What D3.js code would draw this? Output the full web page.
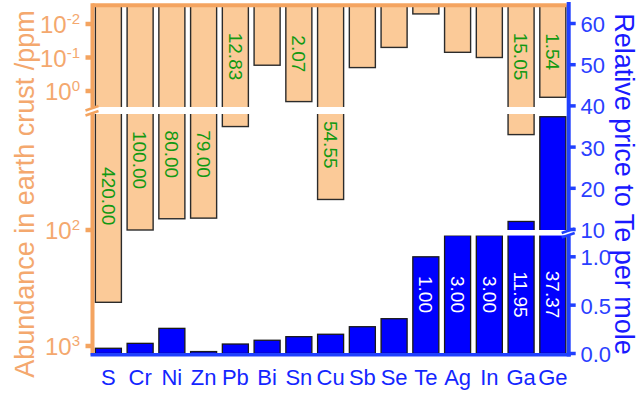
<!DOCTYPE html>
<html>
<head>
<meta charset="utf-8">
<script src="https://cdn.jsdelivr.net/npm/d3@7"></script>
<style>
body { margin: 0; background: #fff; }
svg { display: block; font-family: "Liberation Sans", Arial, sans-serif; }
</style>
</head>
<body>
<svg id="chart" width="640" height="396"></svg>
<script>
// Data
const elements = ["S", "Cr", "Ni", "Zn", "Pb", "Bi", "Sn", "Cu", "Sb", "Se", "Te", "Ag", "In", "Ga", "Ge"];
const abundance = [420, 100, 80, 79, 12.83, 0.17, 2.07, 54.55, 0.2, 0.05, 0.005, 0.07, 0.1, 15.05, 1.54];
const abundanceLabels = ["420.00", "100.00", "80.00", "79.00", "12.83", null, "2.07", "54.55", null, null, null, null, null, "15.05", "1.54"];
const price = [0.054, 0.105, 0.26, 0.02, 0.098, 0.137, 0.174, 0.199, 0.277, 0.36, 1.00, 3.00, 3.00, 11.95, 37.37];
const priceLabels = [null, null, null, null, null, null, null, null, null, null, "1.00", "3.00", "3.00", "11.95", "37.37"];

const leftExpTop = [-2, -1, 0];
const leftExpBottom = [2, 3];
const rightTicksTop = [10, 20, 30, 40, 50, 60];
const rightTicksBottom = [0, 0.5, 1.0];

// Layout
const orange = "#f4a460", orangeText = "#f4a86e", peach = "#fbca98";
const blueAxis = "#2040ff", blueText = "#2a40ff";
const plotL = 92.5, plotR = 568.7, plotT = 6, plotB = 353.5;

const svg = d3.select("#chart");

const x = d3.scaleBand()
    .domain(elements)
    .range([plotL, plotR])
    .paddingInner(0.18)
    .paddingOuter(0.09);

// broken log axis for abundance (upper part 10^-2.5..3, lower part 10..~1200)
const abTop = d3.scaleLog().domain([0.01, 1]).range([24, 91]);
const abBot = d3.scaleLog().domain([100, 1000]).range([230, 346]);
const abGap = [3, 10];
const abY = v => v <= abGap[0] ? abTop(v) : v >= abGap[1] ? abBot(v) : abTop(abGap[0]);

// broken linear axis for price (lower 0..1.22, upper 10..65)
const prTop = d3.scaleLinear().domain([10, 60]).range([229.5, 23.5]);
const prBot = d3.scaleLinear().domain([0, 1]).range([plotB, 256.8]);
const prGap = [1.22, 10];
const prY = v => v <= prGap[0] ? prBot(v) : v >= prGap[1] ? prTop(v) : prBot(prGap[0]);

const rows = elements.map((e, i) => ({
    e, ab: abundance[i], abLabel: abundanceLabels[i], pr: price[i], prLabel: priceLabels[i]
}));

// Blue price bars
svg.append("g")
    .selectAll("rect")
    .data(rows)
    .join("rect")
    .attr("x", d => x(d.e))
    .attr("y", d => prY(d.pr))
    .attr("width", x.bandwidth())
    .attr("height", d => plotB - prY(d.pr))
    .attr("fill", "#0000ff")
    .attr("stroke", "#1a1a1a")
    .attr("stroke-width", 1.3);

// price axis break gap across the plot
const prGapTop = prTop(prGap[1]), prGapBot = prBot(prGap[0]);
svg.append("rect")
    .attr("x", plotL).attr("width", plotR - plotL)
    .attr("y", prGapTop + 0.5).attr("height", prGapBot - prGapTop - 0.5)
    .attr("fill", "#fff");

// Orange abundance bars (hanging from the top)
svg.append("g")
    .selectAll("rect")
    .data(rows)
    .join("rect")
    .attr("x", d => x(d.e))
    .attr("y", plotT)
    .attr("width", x.bandwidth())
    .attr("height", d => abY(d.ab) - plotT)
    .attr("fill", peach)
    .attr("stroke", "#2b2b2b")
    .attr("stroke-width", 1.4);

// abundance axis break gap
const abGapTop = abTop(abGap[0]), abGapBot = abBot(abGap[1]);
svg.append("rect")
    .attr("x", plotL - 8).attr("width", plotR - plotL + 8)
    .attr("y", abGapTop).attr("height", abGapBot - abGapTop)
    .attr("fill", "#fff");

// green labels in the orange bars
svg.append("g")
    .selectAll("text")
    .data(rows.filter(d => d.abLabel))
    .join("text")
    .attr("transform", d => {
        const yb = abY(d.ab);
        let cy;
        if (yb - abGapBot > 70) cy = (abGapBot + yb) / 2 - 12;
        else cy = (plotT + Math.min(yb, abGapTop)) / 2;
        return `translate(${x(d.e) + x.bandwidth() / 2},${cy}) rotate(90)`;
    })
    .attr("text-anchor", "middle")
    .attr("dy", "0.35em")
    .attr("font-size", 19)
    .attr("fill", "#129912")
    .text(d => d.abLabel);

// white labels in the blue bars
svg.append("g")
    .selectAll("text")
    .data(rows.filter(d => d.prLabel))
    .join("text")
    .attr("transform", d => `translate(${x(d.e) + x.bandwidth() / 2},${(prGapBot + plotB) / 2}) rotate(90)`)
    .attr("text-anchor", "middle")
    .attr("dy", "0.35em")
    .attr("font-size", 19)
    .attr("fill", "#fff")
    .text(d => d.prLabel);

// Axis frame
svg.append("line").attr("x1", plotL).attr("x2", plotR - 2).attr("y1", 5.3).attr("y2", 5.3)
    .attr("stroke", orange).attr("stroke-width", 4);
svg.append("line").attr("x1", plotL).attr("x2", plotL).attr("y1", 3.3).attr("y2", 355)
    .attr("stroke", orange).attr("stroke-width", 4);
svg.append("line").attr("x1", plotR).attr("x2", plotR).attr("y1", 2).attr("y2", 356.5)
    .attr("stroke", blueAxis).attr("stroke-width", 4);
svg.append("line").attr("x1", plotL - 2).attr("x2", plotR + 2).attr("y1", 354.8).attr("y2", 354.8)
    .attr("stroke", blueAxis).attr("stroke-width", 3.5);

// axis breaks on the axis lines
svg.append("rect").attr("x", plotL - 4).attr("width", 8)
    .attr("y", abGapTop).attr("height", abGapBot - abGapTop).attr("fill", "#fff");
svg.append("rect").attr("x", plotR - 4).attr("width", 8)
    .attr("y", prGapTop + 0.5).attr("height", prGapBot - prGapTop - 0.5).attr("fill", "#fff");

function breakMarks(cx, y0, y1, color) {
    [y0, y1].forEach(yy => {
        svg.append("line")
            .attr("x1", cx - 7).attr("y1", yy + 2.5)
            .attr("x2", cx + 6).attr("y2", yy - 2)
            .attr("stroke", color).attr("stroke-width", 2.5);
    });
}
breakMarks(plotL, abGapTop + 1, abGapBot - 1, orange);
breakMarks(plotR, prGapTop + 1, prGapBot - 0.5, blueAxis);

// Left ticks (log, exponents)
const leftTicks = leftExpTop.map(e => ({ e, y: abTop(Math.pow(10, e)) }))
    .concat(leftExpBottom.map(e => ({ e, y: abBot(Math.pow(10, e)) })));

svg.append("g")
    .selectAll("line")
    .data(leftTicks)
    .join("line")
    .attr("x1", plotL - 7).attr("x2", plotL)
    .attr("y1", d => d.y).attr("y2", d => d.y)
    .attr("stroke", orange).attr("stroke-width", 4.5);

const lt = svg.append("g")
    .selectAll("text")
    .data(leftTicks)
    .join("text")
    .attr("x", 80)
    .attr("y", d => d.y + 9)
    .attr("text-anchor", "end")
    .attr("fill", orangeText)
    .attr("font-size", 24);
lt.append("tspan").text("10");
lt.append("tspan").attr("dy", -9).attr("font-size", 15).text(d => String(d.e));

// Right ticks
const rightTicks = rightTicksTop.map(v => ({ v, y: prTop(v), t: String(v) }))
    .concat(rightTicksBottom.map(v => ({ v, y: prBot(v), t: d3.format(".1f")(v) })));

svg.append("g")
    .selectAll("line")
    .data(rightTicks)
    .join("line")
    .attr("x1", plotR).attr("x2", plotR + 7)
    .attr("y1", d => d.y).attr("y2", d => d.y)
    .attr("stroke", blueAxis).attr("stroke-width", 3.5);

svg.append("g")
    .selectAll("text")
    .data(rightTicks)
    .join("text")
    .attr("x", 580.5)
    .attr("y", d => d.y + 8.5)
    .attr("fill", blueText)
    .attr("font-size", 22)
    .text(d => d.t);

// Category labels
svg.append("g")
    .selectAll("text")
    .data(elements)
    .join("text")
    .attr("x", d => x(d) + x.bandwidth() / 2)
    .attr("y", 385)
    .attr("text-anchor", "middle")
    .attr("fill", "#1426ff")
    .attr("font-size", 22)
    .text(d => d);

// Axis titles
svg.append("text")
    .attr("transform", "translate(34,194) rotate(-90)")
    .attr("text-anchor", "middle")
    .attr("fill", orangeText)
    .attr("font-size", 27)
    .text("Abundance in earth crust /ppm");

svg.append("text")
    .attr("transform", "translate(615,184) rotate(90)")
    .attr("text-anchor", "middle")
    .attr("fill", "#1a1aff")
    .attr("font-size", 27)
    .text("Relative price to Te per mole");
</script>
</body>
</html>
